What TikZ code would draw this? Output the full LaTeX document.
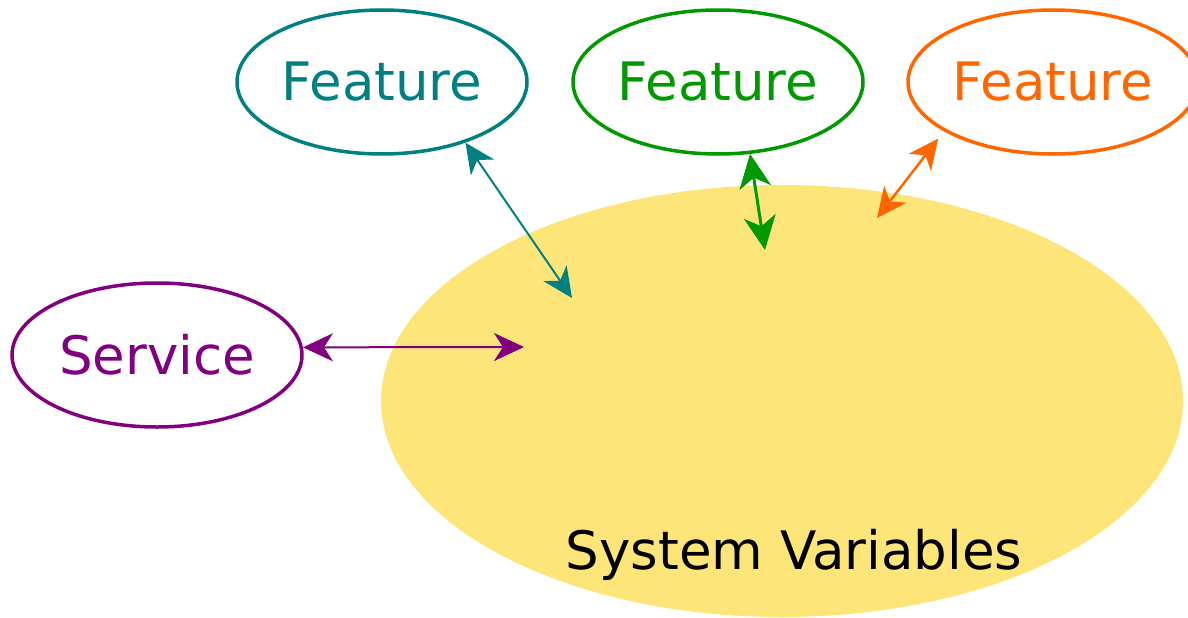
\documentclass[tikz,border=0pt]{standalone}
\usepackage{fontspec}
\setmainfont{DejaVu Sans}
\usetikzlibrary{shapes.geometric,arrows.meta}
\definecolor{cteal}{HTML}{008080}
\definecolor{cgreen}{HTML}{009900}
\definecolor{corange}{HTML}{FF6600}
\definecolor{cpurple}{HTML}{800080}
\definecolor{cyellow}{HTML}{FDE579}
\begin{document}
\begin{tikzpicture}[x=1pt,y=-1pt,
  bubble/.style={ellipse,draw,line width=3.5pt,minimum width=290pt,minimum height=144pt,inner sep=0pt,font=\fontsize{53}{60}\selectfont},
  link/.style={line width=2pt,{Stealth[length=30pt,width=28pt,inset=9pt]}-{Stealth[length=30pt,width=28pt,inset=9pt]}}]
\useasboundingbox (0,0) rectangle (1188,618);
\node[ellipse,fill=cyellow,minimum width=802pt,minimum height=432pt,inner sep=0pt] (sv) at (782,401) {};
\node[font=\fontsize{53}{60}\selectfont,anchor=base] (svl) at (794,569) {System Variables};
\node[bubble,draw=cteal,text=cteal] (f1) at (382,82) {\raisebox{-2pt}{Feature}};
\node[bubble,draw=cgreen,text=cgreen] (f2) at (718,82) {\raisebox{-2pt}{Feature}};
\node[bubble,draw=corange,text=corange] (f3) at (1053,82) {\raisebox{-2pt}{Feature}};
\node[bubble,draw=cpurple,text=cpurple] (s) at (157,355) {\raisebox{-1pt}{Service}};
\coordinate (t1) at (572,298);
\coordinate (t2) at (765,250);
\coordinate (t3) at (877,218);
\coordinate (t4) at (524,347);
\draw[link,draw=cteal,fill=cteal] (f1.-36) -- (t1);
\draw[link,line width=3pt,draw=cgreen,fill=cgreen,{Stealth[length=34pt,width=32pt,inset=10pt]}-{Stealth[length=34pt,width=32pt,inset=10pt]}] (f2.-66) -- (t2);
\draw[link,line width=2.5pt,draw=corange,fill=corange] ([xshift=-14pt,yshift=-3pt]f3.-152) -- (t3);
\draw[link,draw=cpurple,fill=cpurple] (s.3) -- (t4);
\end{tikzpicture}
\end{document}
